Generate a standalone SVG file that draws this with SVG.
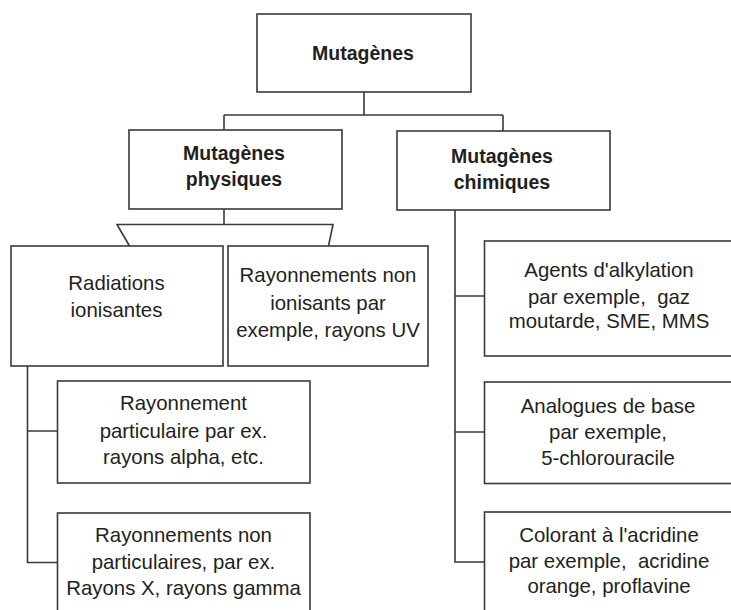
<svg xmlns="http://www.w3.org/2000/svg" width="731" height="610" viewBox="0 0 731 610">
<style>
.box{fill:#fff;stroke:#3a3a3a;stroke-width:1.6}
.ln{fill:none;stroke:#3a3a3a;stroke-width:1.6}
.t{font-family:"Liberation Sans",Arial,sans-serif;font-size:20.4px;fill:#231f20;text-anchor:middle;white-space:pre}
.b{font-family:"Liberation Sans",Arial,sans-serif;font-size:19.5px;font-weight:bold;fill:#231f20;text-anchor:middle}
</style>
<rect width="731" height="610" fill="#fff"/>
<g id="connectors">
<path class="ln" d="M364,92V115M224,115H503M224,115V130M503,115V131"/>
<path class="ln" d="M224,209V224.5M129.5,246L117,224.5H333L328.5,246"/>
<path class="ln" d="M27.5,366V562.5H57.5M27.5,431H57.5"/>
<path class="ln" d="M455,210V562H484.5M455,296H484.5M455,432H484.5"/>
</g>
<g id="mutagenes">
<rect class="box" x="257" y="14" width="214" height="78"/>
<text class="b" x="363" y="60">Mutagènes</text>
</g>
<g id="physiques">
<rect class="box" x="129" y="130" width="213" height="79"/>
<text class="b" x="234" y="160">Mutagènes</text>
<text class="b" x="234" y="186">physiques</text>
</g>
<g id="chimiques">
<rect class="box" x="397" y="131" width="213" height="79"/>
<text class="b" x="502" y="163">Mutagènes</text>
<text class="b" x="502" y="189">chimiques</text>
</g>
<g id="radiations">
<rect class="box" x="11" y="246" width="212" height="120"/>
<text class="t" x="116.5" y="290">Radiations</text>
<text class="t" x="116.5" y="317">ionisantes</text>
</g>
<g id="nonionisants">
<rect class="box" x="228" y="246" width="200" height="120"/>
<text class="t" x="328" y="282">Rayonnements non</text>
<text class="t" x="328" y="309.5">ionisants par</text>
<text class="t" x="328" y="337">exemple, rayons UV</text>
</g>
<g id="particulaire">
<rect class="box" x="57.5" y="381" width="252.5" height="102"/>
<text class="t" x="183.5" y="410">Rayonnement</text>
<text class="t" x="183.5" y="438">particulaire par ex.</text>
<text class="t" x="183.5" y="464">rayons alpha, etc.</text>
</g>
<g id="nonparticulaires">
<rect class="box" x="57.5" y="513" width="252.5" height="120"/>
<text class="t" x="183.5" y="542">Rayonnements non</text>
<text class="t" x="183.5" y="568.5">particulaires, par ex.</text>
<text class="t" x="183.5" y="595">Rayons X, rayons gamma</text>
</g>
<g id="alkylation">
<rect class="box" x="484.5" y="241" width="270" height="115"/>
<text class="t" x="609" y="277">Agents d'alkylation</text>
<text class="t" x="609" y="303.5" xml:space="preserve">par exemple,  gaz</text>
<text class="t" x="609" y="327.5">moutarde, SME, MMS</text>
</g>
<g id="analogues">
<rect class="box" x="484.5" y="382" width="270" height="101.5"/>
<text class="t" x="608" y="413">Analogues de base</text>
<text class="t" x="608" y="438.5">par exemple,</text>
<text class="t" x="608" y="464.5">5-chlorouracile</text>
</g>
<g id="acridine">
<rect class="box" x="484.5" y="512" width="270" height="130"/>
<text class="t" x="609" y="542">Colorant à l'acridine</text>
<text class="t" x="609" y="567.5" xml:space="preserve">par exemple,  acridine</text>
<text class="t" x="609" y="593">orange, proflavine</text>
</g>
</svg>
